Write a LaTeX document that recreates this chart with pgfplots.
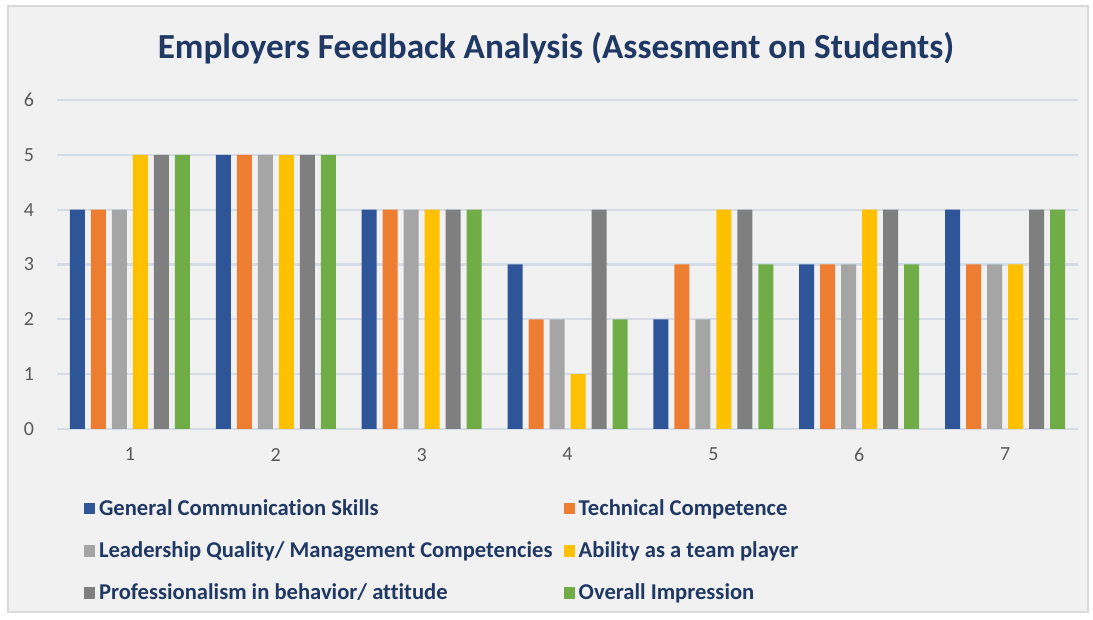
\documentclass[border=0pt]{standalone}
\usepackage{pgfplots}
\pgfplotsset{compat=1.18}
\usepackage{fontspec}
\setmainfont{Carlito}[Ligatures=NoCommon]
\definecolor{cblue}{HTML}{2E5597}
\definecolor{corange}{HTML}{ED7D31}
\definecolor{cgray}{HTML}{A5A5A5}
\definecolor{cyellow}{HTML}{FFC000}
\definecolor{cdgray}{HTML}{7F7F7F}
\definecolor{cgreen}{HTML}{70AD47}
\definecolor{cnavy}{HTML}{1F3864}
\definecolor{cbg}{HTML}{F1F1F1}
\definecolor{cborder}{HTML}{D9D9D9}
\definecolor{cgrid}{HTML}{D5DCE6}
\definecolor{ctick}{HTML}{595959}
\begin{document}
\begin{tikzpicture}[x=1pt,y=1pt]
\fill[white] (0,0) rectangle (546.5,310);
\draw[line width=0.8pt, draw=cborder, fill=cbg] (4,4) rectangle (544,307);
\node[font=\bfseries\fontsize{17.6}{20}\selectfont, text=cnavy] at (278,286) {Employers Feedback Analysis (Assesment on Students)};
\begin{axis}[
  at={(28.5pt,95.5pt)}, anchor=south west,
  scale only axis, width=510.5pt, height=164.5pt,
  xmin=0.5, xmax=7.5, ymin=0, ymax=6,
  ybar=3pt, bar width=7.5pt,
  xtick={1,...,7}, ytick={0,...,6},
  axis line style={draw=none},
  major tick length=0pt,
  ymajorgrids, grid style={draw=cgrid, line width=1.1pt},
  /pgf/number format/assume math mode=true,
  tick label style={font=\fontsize{10}{12}\selectfont, text=ctick},
  xticklabel style={yshift=-6pt},
  yticklabel style={xshift=-8pt},
  legend columns=2,
  legend cell align=left,
  legend style={at={(0.02,-0.188)}, anchor=north west, draw=none, fill=none,
    font=\bfseries\fontsize{11.3}{13}\selectfont, text=cnavy, row sep=7.6pt,
    /tikz/every even column/.append style={column sep=3.5pt}},
  legend image code/.code={\fill[#1] (0pt,-2.9pt) rectangle (5.6pt,2.9pt);},
]
\addplot[fill=cblue, draw=none] coordinates {(1,4)(2,5)(3,4)(4,3)(5,2)(6,3)(7,4)};
\addlegendentry{General Communication Skills}
\addplot[fill=corange, draw=none] coordinates {(1,4)(2,5)(3,4)(4,2)(5,3)(6,3)(7,3)};
\addlegendentry{Technical Competence}
\addplot[fill=cgray, draw=none] coordinates {(1,4)(2,5)(3,4)(4,2)(5,2)(6,3)(7,3)};
\addlegendentry{Leadership Quality/ Management Competencies}
\addplot[fill=cyellow, draw=none] coordinates {(1,5)(2,5)(3,4)(4,1)(5,4)(6,4)(7,3)};
\addlegendentry{Ability as a team player}
\addplot[fill=cdgray, draw=none] coordinates {(1,5)(2,5)(3,4)(4,4)(5,4)(6,4)(7,4)};
\addlegendentry{Professionalism in behavior/ attitude}
\addplot[fill=cgreen, draw=none] coordinates {(1,5)(2,5)(3,4)(4,2)(5,3)(6,3)(7,4)};
\addlegendentry{Overall Impression}
\end{axis}
\end{tikzpicture}
\end{document}
